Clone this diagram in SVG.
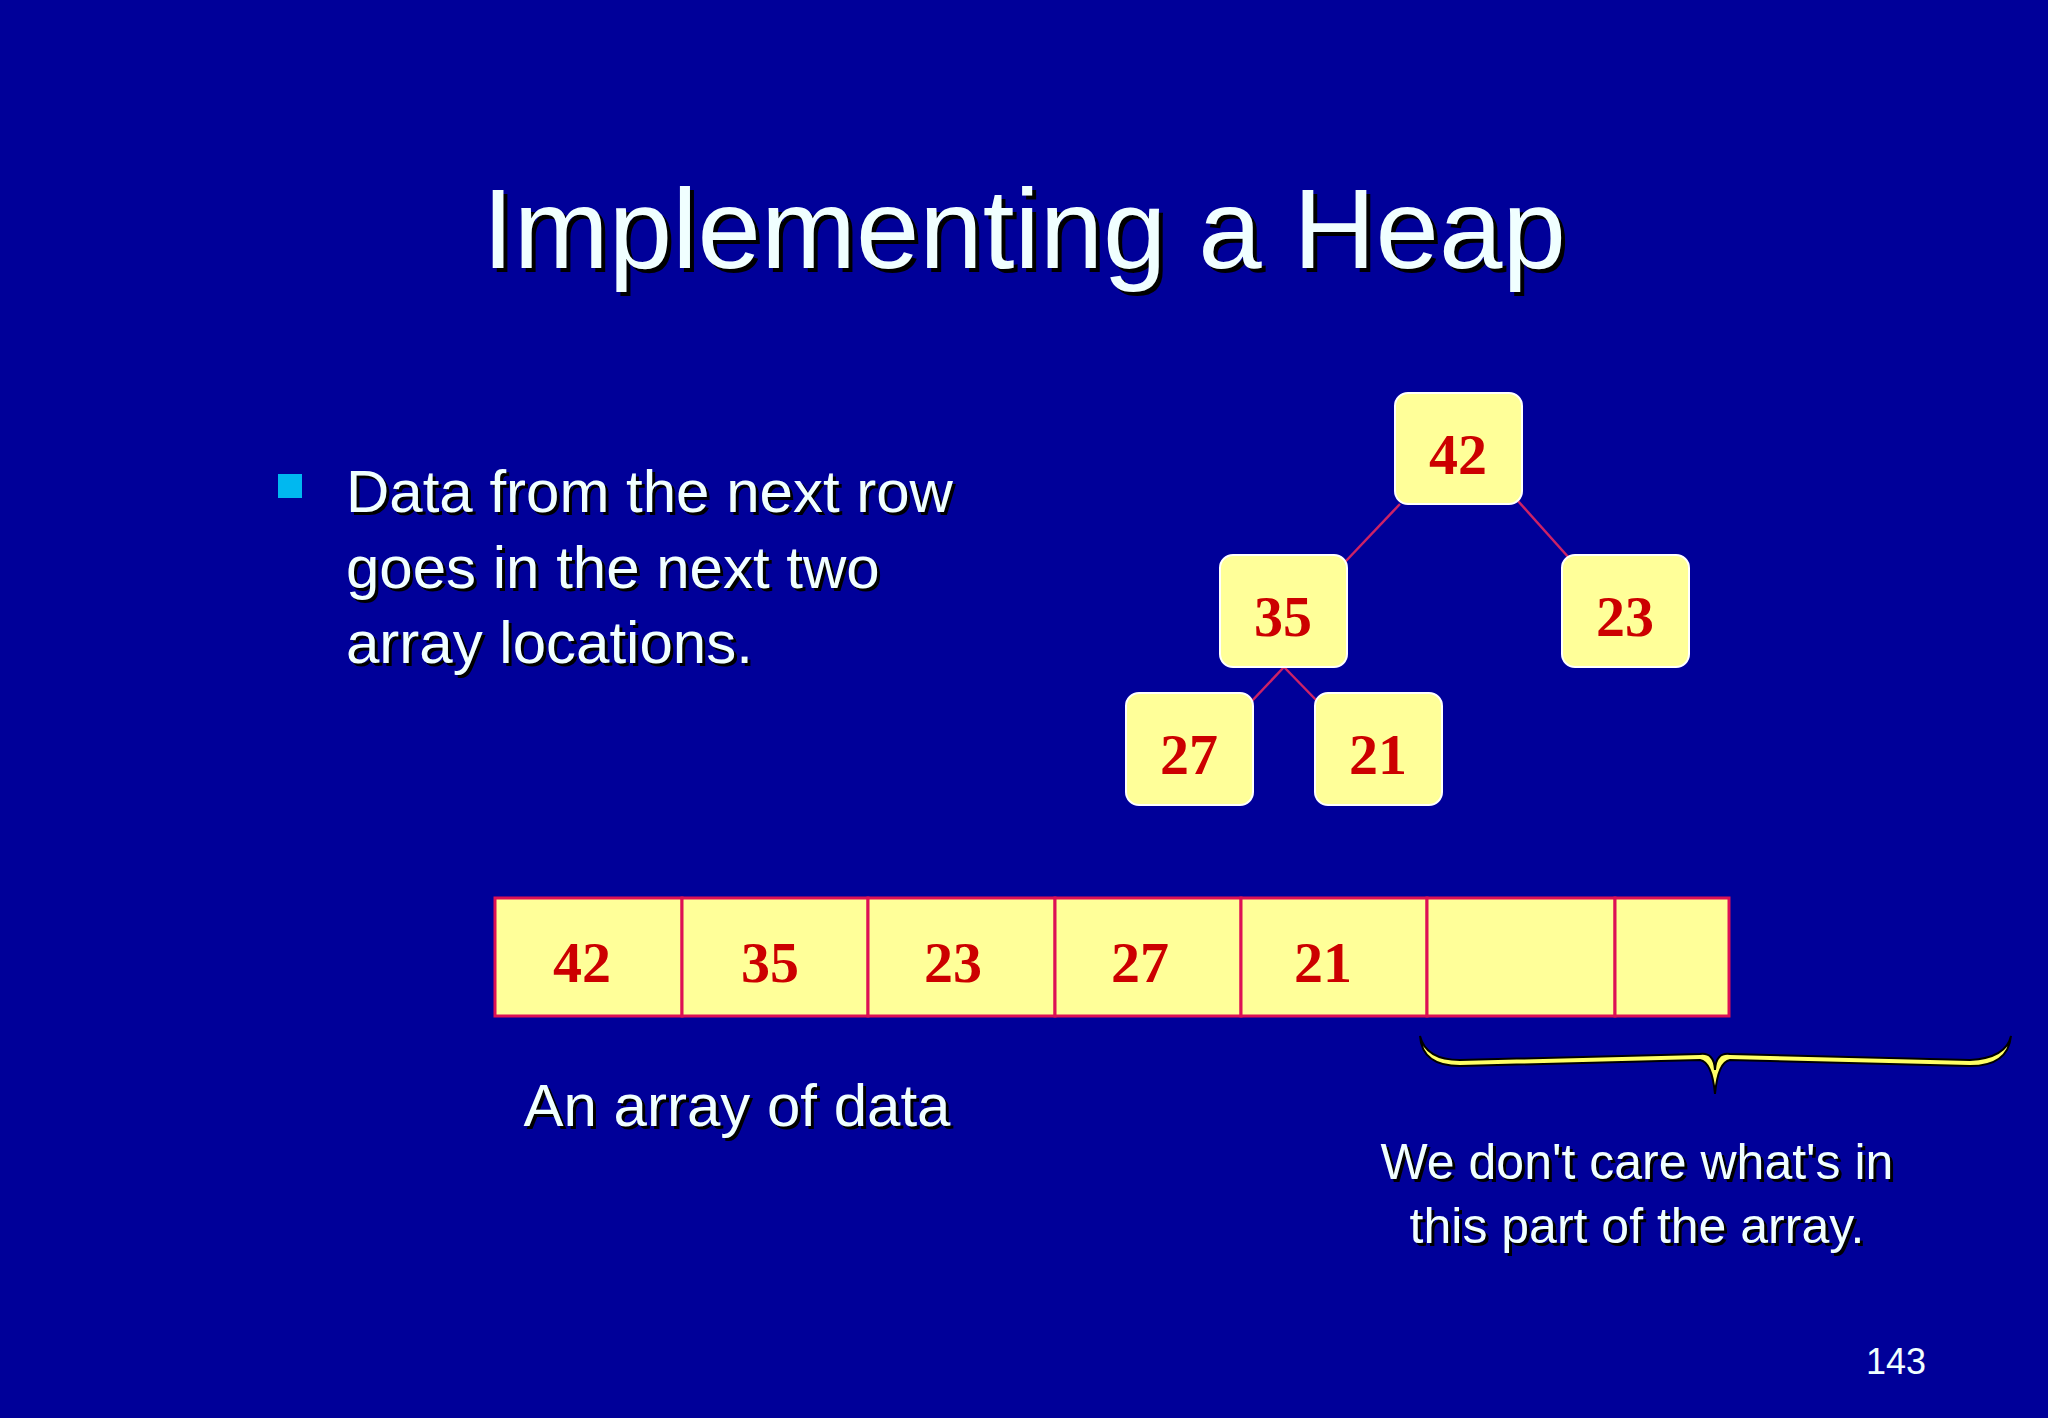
<svg xmlns="http://www.w3.org/2000/svg" width="2048" height="1418" viewBox="0 0 2048 1418">
<style>
.s{font-family:"Liberation Sans",Arial,sans-serif;fill:#f0ffff}
.sh{font-family:"Liberation Sans",Arial,sans-serif;fill:#000}
.n{font-family:"Liberation Serif","Times New Roman",serif;font-weight:bold;fill:#cc0000;font-size:58px;text-anchor:middle}
.box{fill:#ffff99;stroke:#fff;stroke-width:2}
.cell{fill:#ffff99;stroke:#dd1155;stroke-width:3}
.e{stroke:#cc2266;stroke-width:2.5}
</style>
<rect width="2048" height="1418" fill="#000099"/>
<g id="title" font-size="114" text-anchor="middle">
<text class="sh" x="1028" y="272">Implementing a Heap</text>
<text class="s" x="1024" y="268">Implementing a Heap</text>
</g>
<g id="bullet" font-size="60">
<rect x="278" y="474" width="24" height="24" fill="#00b8f0"/>
<text class="sh" x="349" y="515">Data from the next row</text>
<text class="s" x="346" y="512">Data from the next row</text>
<text class="sh" x="349" y="591">goes in the next two</text>
<text class="s" x="346" y="588">goes in the next two</text>
<text class="sh" x="349" y="666">array locations.</text>
<text class="s" x="346" y="663">array locations.</text>
</g>
<g id="connectors">
<line class="e" x1="1400" y1="504" x2="1345" y2="562"/>
<line class="e" x1="1518" y1="501" x2="1570" y2="559"/>
<line class="e" x1="1284" y1="667" x2="1250" y2="703"/>
<line class="e" x1="1284" y1="667" x2="1319" y2="703"/>
</g>
<g id="n42"><rect class="box" x="1395" y="393" width="127" height="111" rx="13"/><text class="n" x="1458" y="474">42</text></g>
<g id="n35"><rect class="box" x="1220" y="555" width="127" height="112" rx="13"/><text class="n" x="1283" y="636">35</text></g>
<g id="n23"><rect class="box" x="1562" y="555" width="127" height="112" rx="13"/><text class="n" x="1625" y="636">23</text></g>
<g id="n27"><rect class="box" x="1126" y="693" width="127" height="112" rx="13"/><text class="n" x="1189" y="774">27</text></g>
<g id="n21"><rect class="box" x="1315" y="693" width="127" height="112" rx="13"/><text class="n" x="1378" y="774">21</text></g>
<g id="array">
<rect class="cell" x="495" y="898" width="187" height="118"/>
<rect class="cell" x="682" y="898" width="186" height="118"/>
<rect class="cell" x="868" y="898" width="187" height="118"/>
<rect class="cell" x="1055" y="898" width="186" height="118"/>
<rect class="cell" x="1241" y="898" width="186" height="118"/>
<rect class="cell" x="1427" y="898" width="188" height="118"/>
<rect class="cell" x="1615" y="898" width="114" height="118"/>
<text class="n" x="582" y="982">42</text>
<text class="n" x="770" y="982">35</text>
<text class="n" x="953" y="982">23</text>
<text class="n" x="1140" y="982">27</text>
<text class="n" x="1323" y="982">21</text>
</g>
<g id="label" font-size="60" text-anchor="middle">
<text class="sh" x="740" y="1129">An array of data</text>
<text class="s" x="737" y="1126">An array of data</text>
</g>
<g id="brace">
<path d="M1420,1036 Q1422,1066 1460,1066 L1700,1060 Q1712,1062 1715,1094 Q1718,1062 1730,1060 L1970,1066 Q2008,1066 2011,1036 Q2006,1058 1970,1060 L1730,1054 Q1716,1052 1715,1070 Q1714,1052 1700,1054 L1460,1060 Q1426,1060 1420,1036 Z" fill="#ffff66" stroke="#000" stroke-width="2"/>
</g>
<g id="note" font-size="50" text-anchor="middle">
<text class="sh" x="1640" y="1182">We don't care what's in</text>
<text class="s" x="1637" y="1179">We don't care what's in</text>
<text class="sh" x="1640" y="1246">this part of the array.</text>
<text class="s" x="1637" y="1243">this part of the array.</text>
</g>
<text class="s" x="1896" y="1374" font-size="36" text-anchor="middle">143</text>
</svg>
